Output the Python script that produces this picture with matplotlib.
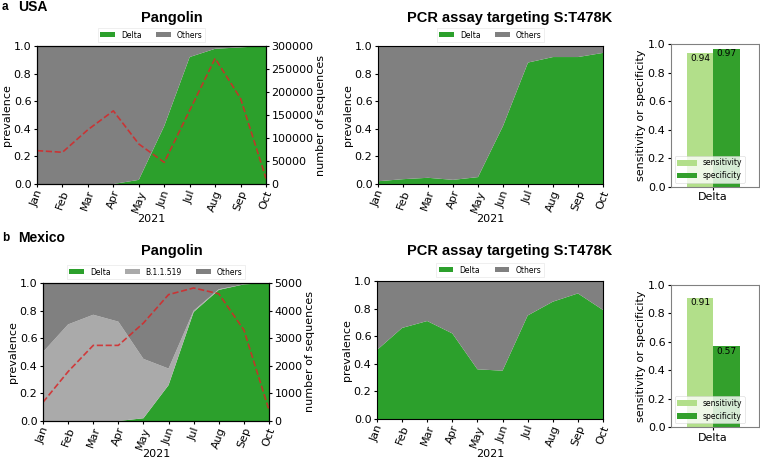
import matplotlib
matplotlib.use("Agg")
import matplotlib.pyplot as plt
import numpy as np

months = ["Jan", "Feb", "Mar", "Apr", "May", "Jun", "Jul", "Aug", "Sep", "Oct"]

usa_pango_delta = [0.0, 0.0, 0.0, 0.0, 0.03, 0.42, 0.92, 0.98, 0.99, 1.0]
usa_counts = [72500, 69000, 118000, 159000, 87000, 47000, 160000, 273000, 186000, 12000]
usa_pcr_delta = [0.02, 0.035, 0.045, 0.03, 0.05, 0.42, 0.88, 0.92, 0.92, 0.95]
usa_sens_spec = [0.94, 0.97]

mex_pango_delta = [0.0, 0.0, 0.0, 0.0, 0.02, 0.26, 0.79, 0.95, 0.99, 1.0]
mex_pango_b519 = [0.50, 0.70, 0.77, 0.72, 0.43, 0.12, 0.01, 0.005, 0.0, 0.0]
mex_counts = [680, 1790, 2740, 2740, 3550, 4580, 4820, 4610, 3300, 400]
mex_pcr_delta = [0.50, 0.66, 0.71, 0.62, 0.36, 0.35, 0.75, 0.85, 0.91, 0.79]
mex_sens_spec = [0.91, 0.57]

bar_labels = ["sensitivity", "specificity"]

W, H = 760, 458
fig = plt.figure(figsize=(W / 100, H / 100), dpi=100)

def ax_px(x0, y0, x1, y1):
    return fig.add_axes([x0 / W, 1 - y1 / H, (x1 - x0) / W, (y1 - y0) / H])

GREEN = "#2ca02c"
GRAY = "#808080"
LGRAY = "#aaaaaa"
RED = "#d62728"
FS = 8
TFONT = ["Liberation Sans", "DejaVu Sans"]

def area_panel(ax, layers, colors, names, counts=None, cmax=None, cticks=None, xpad=0):
    x = np.arange(len(months))
    ax.stackplot(x, *layers, colors=colors, labels=names)
    ax.set_xlim(0, len(months) - 1)
    ax.set_ylim(0, 1)
    ax.set_xticks(x)
    ax.set_xticklabels(months, rotation=70, fontsize=FS)
    ax.set_yticks([0, 0.2, 0.4, 0.6, 0.8, 1.0])
    ax.tick_params(axis="y", labelsize=FS, length=2.5, pad=1.5)
    ax.tick_params(axis="x", length=2.5, pad=1.0)
    ax.set_ylabel("prevalence", fontsize=FS, labelpad=1)
    ax.set_xlabel("2021", fontsize=FS, labelpad=xpad)
    for s in ax.spines.values():
        s.set_linewidth(0.8)
    leg = ax.legend(loc="lower center", bbox_to_anchor=(0.5, 1.0), ncol=len(names),
                    fontsize=5.5, frameon=True, handlelength=1.9, handleheight=0.6,
                    handletextpad=0.8, columnspacing=1.9, borderpad=0.35, fancybox=False)
    leg.get_frame().set_linewidth(0.4)
    leg.get_frame().set_edgecolor("#dddddd")
    if counts is not None:
        ax2 = ax.twinx()
        ax2.plot(x, counts, ls="--", color=RED, lw=1.2, alpha=0.85)
        ax2.set_ylim(0, cmax)
        ax2.set_yticks(cticks)
        ax2.tick_params(axis="y", labelsize=FS, length=2.5, pad=1.5)
        ax2.set_ylabel("number of sequences", fontsize=FS, labelpad=2)
        for s in ax2.spines.values():
            s.set_linewidth(0.8)

def bar_panel(ax, vals):
    cols = ["#b2df8a", "#33a02c"]
    w = 0.3
    xs = [-w / 2, w / 2]
    for xi, v, c, lab in zip(xs, vals, cols, bar_labels):
        ax.bar(xi, v, width=w, color=c, label=lab)
        ax.text(xi, v - 0.005, f"{v:.2f}", ha="center", va="top", fontsize=6.5)
    ax.set_xlim(-0.48, 0.52)
    ax.set_ylim(0, 1)
    ax.set_xticks([0])
    ax.set_xticklabels(["Delta"], fontsize=FS)
    ax.set_yticks([0, 0.2, 0.4, 0.6, 0.8, 1.0])
    ax.tick_params(axis="y", labelsize=FS, length=2.5, pad=1.5)
    ax.tick_params(axis="x", length=2.5, pad=1.5)
    ax.set_ylabel("sensitivity or specificity", fontsize=FS, labelpad=1)
    for s in ax.spines.values():
        s.set_color(GRAY)
        s.set_linewidth(0.8)
    leg = ax.legend(loc="lower left", fontsize=5.5, handlelength=2.5,
                    handleheight=0.8, borderpad=0.35, fancybox=True)
    leg.get_frame().set_linewidth(0.4)

# USA row
a1 = ax_px(37, 46, 266, 184)
d = np.array(usa_pango_delta)
area_panel(a1, [d, 1 - d], [GREEN, GRAY], ["Delta", "Others"],
           usa_counts, 300000, [0, 50000, 100000, 150000, 200000, 250000, 300000])
a2 = ax_px(378, 46, 603, 184)
d = np.array(usa_pcr_delta)
area_panel(a2, [d, 1 - d], [GREEN, GRAY], ["Delta", "Others"])
a3 = ax_px(671, 44.3, 759, 186.7)
bar_panel(a3, usa_sens_spec)

# Mexico row
b1 = ax_px(43, 283, 269, 421)
d = np.array(mex_pango_delta)
b = np.array(mex_pango_b519)
area_panel(b1, [d, b, 1 - d - b], [GREEN, LGRAY, GRAY], ["Delta", "B.1.1.519", "Others"],
           mex_counts, 5000, [0, 1000, 2000, 3000, 4000, 5000], xpad=-1.5)
b2 = ax_px(377, 281, 603, 419)
d = np.array(mex_pcr_delta)
area_panel(b2, [d, 1 - d], [GREEN, GRAY], ["Delta", "Others"])
b3 = ax_px(671, 285, 759, 427)
bar_panel(b3, mex_sens_spec)

# titles
for (tx, ty, s) in [(172, 18, "Pangolin"), (510, 18, "PCR assay targeting S:T478K"),
                    (172, 251, "Pangolin"), (510, 251, "PCR assay targeting S:T478K")]:
    fig.text(tx / W, 1 - ty / H, s, ha="center", va="center", fontsize=10.5,
             fontweight="bold", family=TFONT)

fig.text(2 / W, 1 - 7 / H, "a", ha="left", va="center", fontsize=8.5, fontweight="bold", family=TFONT)
fig.text(18 / W, 1 - 7 / H, "USA", ha="left", va="center", fontsize=10, fontweight="bold", family=TFONT)
fig.text(2 / W, 1 - 238 / H, "b", ha="left", va="center", fontsize=8.5, fontweight="bold", family=TFONT)
fig.text(18 / W, 1 - 238 / H, "Mexico", ha="left", va="center", fontsize=10, fontweight="bold", family=TFONT)

fig.savefig("out.png", dpi=100)
